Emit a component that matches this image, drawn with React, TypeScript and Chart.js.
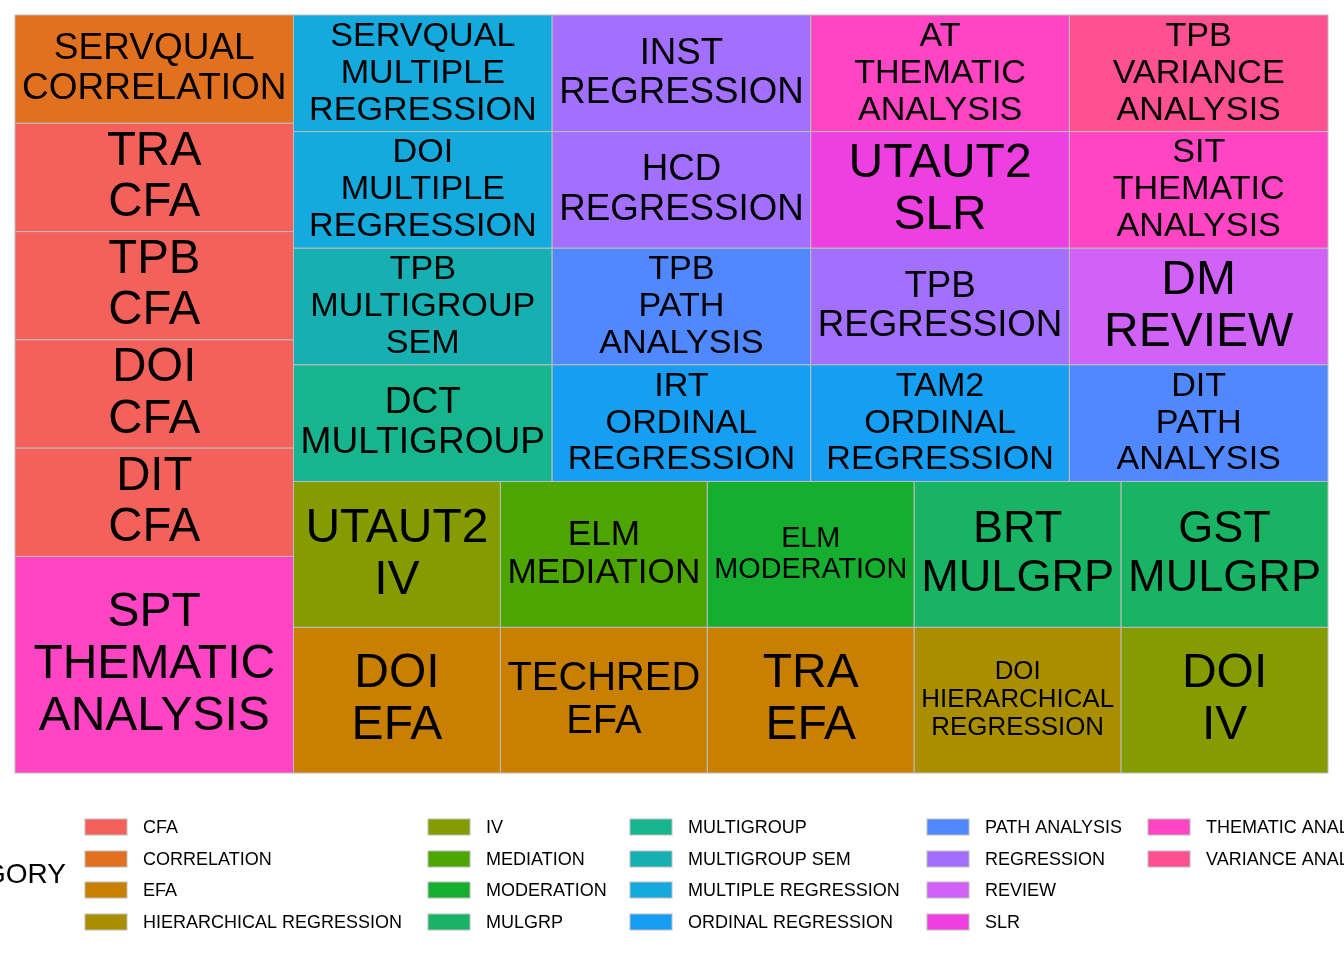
import { useRef, useEffect } from 'react';
import { Chart, registerables } from 'chart.js';

Chart.register(...registerables);

// category colours (legend order)
const categories = [
  'CFA', 'CORRELATION', 'EFA', 'HIERARCHICAL REGRESSION', 'IV', 'MEDIATION',
  'MODERATION', 'MULGRP', 'MULTIGROUP', 'MULTIGROUP SEM', 'MULTIPLE REGRESSION',
  'ORDINAL REGRESSION', 'PATH ANALYSIS', 'REGRESSION', 'REVIEW', 'SLR',
  'THEMATIC ANALYSIS', 'VARIANCE ANALYSIS',
];
const colors = [
  '#F3615A', '#E2711F', '#C98000', '#A98F00', '#859C00', '#4DA600',
  '#15AE2F', '#18B464', '#17B58E', '#16B0B2', '#14AADD', '#169FF2',
  '#5088FF', '#A26FFF', '#D062F8', '#EE40E0', '#FF44C4', '#FF5191',
];

// cells: [theory, category, count], grouped in the strips of the layout
const stripLeft: [string, string, number][] = [
  ['SERVQUAL', 'CORRELATION', 1], ['TRA', 'CFA', 1], ['TPB', 'CFA', 1],
  ['DOI', 'CFA', 1], ['DIT', 'CFA', 1], ['SPT', 'THEMATIC ANALYSIS', 2],
];
const stripBottom1: [string, string, number][] = [
  ['DOI', 'EFA', 1], ['TECHRED', 'EFA', 1], ['TRA', 'EFA', 1],
  ['DOI', 'HIERARCHICAL REGRESSION', 1], ['DOI', 'IV', 1],
];
const stripBottom2: [string, string, number][] = [
  ['UTAUT2', 'IV', 1], ['ELM', 'MEDIATION', 1], ['ELM', 'MODERATION', 1],
  ['BRT', 'MULGRP', 1], ['GST', 'MULGRP', 1],
];
const stripTop1: [string, string, number][] = [
  ['SERVQUAL', 'MULTIPLE REGRESSION', 1], ['INST', 'REGRESSION', 1],
  ['AT', 'THEMATIC ANALYSIS', 1], ['TPB', 'VARIANCE ANALYSIS', 1],
];
const stripTop2: [string, string, number][] = [
  ['DOI', 'MULTIPLE REGRESSION', 1], ['HCD', 'REGRESSION', 1],
  ['UTAUT2', 'SLR', 1], ['SIT', 'THEMATIC ANALYSIS', 1],
];
const stripTop3: [string, string, number][] = [
  ['TPB', 'MULTIGROUP SEM', 1], ['TPB', 'PATH ANALYSIS', 1],
  ['TPB', 'REGRESSION', 1], ['DM', 'REVIEW', 1],
];
const stripTop4: [string, string, number][] = [
  ['DCT', 'MULTIGROUP', 1], ['IRT', 'ORDINAL REGRESSION', 1],
  ['TAM2', 'ORDINAL REGRESSION', 1], ['DIT', 'PATH ANALYSIS', 1],
];

const strips: { side: 'left' | 'bottom' | 'top'; items: [string, string, number][] }[] = [
  { side: 'left', items: stripLeft },
  { side: 'bottom', items: stripBottom1 },
  { side: 'bottom', items: stripBottom2 },
  { side: 'top', items: stripTop1 },
  { side: 'top', items: stripTop2 },
  { side: 'top', items: stripTop3 },
  { side: 'top', items: stripTop4 },
];

interface Cell { x0: number; y0: number; x1: number; y1: number; theory: string; cat: string; }

function layout(): Cell[] {
  const sum = (a: [string, string, number][]) => a.reduce((s, d) => s + d[2], 0);
  let remaining = strips.reduce((s, st) => s + sum(st.items), 0);
  let r = { x0: 0, y0: 0, x1: 1, y1: 1 };
  const cells: Cell[] = [];
  strips.forEach((st) => {
    const t = sum(st.items);
    const frac = t / remaining;
    if (st.side === 'left') {
      const w = (r.x1 - r.x0) * frac;
      let y = r.y0;
      st.items.forEach(([th, c, v]) => {
        const h = (r.y1 - r.y0) * v / t;
        cells.push({ x0: r.x0, x1: r.x0 + w, y0: y, y1: y + h, theory: th, cat: c });
        y += h;
      });
      r = { ...r, x0: r.x0 + w };
    } else {
      const h = (r.y1 - r.y0) * frac;
      const ya = st.side === 'top' ? r.y0 : r.y1 - h;
      let x = r.x0;
      st.items.forEach(([th, c, v]) => {
        const w = (r.x1 - r.x0) * v / t;
        cells.push({ x0: x, x1: x + w, y0: ya, y1: ya + h, theory: th, cat: c });
        x += w;
      });
      r = st.side === 'top' ? { ...r, y0: r.y0 + h } : { ...r, y1: r.y1 - h };
    }
    remaining -= t;
  });
  return cells;
}

const FONT = '"Liberation Sans", Arial, sans-serif';

const treemapPlugin = {
  id: 'treemap',
  afterDatasetsDraw(chart: any) {
    const ctx: CanvasRenderingContext2D = chart.ctx;
    const xs = chart.scales.x;
    const ys = chart.scales.y;
    ctx.save();
    layout().forEach((c) => {
      const px0 = xs.getPixelForValue(c.x0);
      const px1 = xs.getPixelForValue(c.x1);
      const py0 = ys.getPixelForValue(c.y0);
      const py1 = ys.getPixelForValue(c.y1);
      ctx.fillStyle = colors[categories.indexOf(c.cat)];
      ctx.fillRect(px0, py0, px1 - px0, py1 - py0);
      ctx.strokeStyle = '#BDBDBD';
      ctx.lineWidth = 1;
      ctx.strokeRect(px0, py0, px1 - px0, py1 - py0);
      const lines = [c.theory, ...c.cat.split(' ')];
      const w = px1 - px0 - 14;
      const h = py1 - py0 - 6;
      ctx.font = `100px ${FONT}`;
      const tw = Math.max(...lines.map((l) => ctx.measureText(l).width));
      const size = Math.min(48, (w / tw) * 100, h / (lines.length * 1.08));
      ctx.font = `${size}px ${FONT}`;
      ctx.fillStyle = '#000';
      ctx.textAlign = 'center';
      ctx.textBaseline = 'middle';
      const lh = size * 1.08;
      const cx = (px0 + px1) / 2;
      const cy = (py0 + py1) / 2;
      lines.forEach((l, i) => {
        ctx.fillText(l, cx, cy + (i - (lines.length - 1) / 2) * lh);
      });
    });
    // legend
    ctx.font = `28px ${FONT}`;
    ctx.textAlign = 'right';
    ctx.textBaseline = 'middle';
    ctx.fillStyle = '#000';
    ctx.fillText('CATEGORY', 66, 875);
    const colX = [85, 428, 630, 927, 1148];
    const rowY = [827, 859, 890, 922];
    ctx.font = `18px ${FONT}`;
    ctx.textAlign = 'left';
    categories.forEach((cat, i) => {
      const col = Math.floor(i / 4);
      const row = i % 4;
      const x = colX[col];
      const y = rowY[row];
      ctx.fillStyle = colors[i];
      ctx.fillRect(x, y - 8, 42, 16);
      ctx.strokeStyle = '#BDBDBD';
      ctx.strokeRect(x, y - 8, 42, 16);
      ctx.fillStyle = '#000';
      ctx.fillText(cat, x + 58, y + 1);
    });
    ctx.restore();
  },
};

export default function App() {
  const canvasRef = useRef<HTMLCanvasElement | null>(null);
  const chartRef = useRef<Chart | null>(null);

  useEffect(() => {
    if (!canvasRef.current) return;
    if (chartRef.current) chartRef.current.destroy();
    chartRef.current = new Chart(canvasRef.current, {
      type: 'scatter',
      data: { datasets: [{ data: [], pointRadius: 0 }] },
      options: {
        animation: false,
        responsive: false,
        layout: { padding: { left: 15, top: 15, right: 16, bottom: 187 } },
        plugins: { legend: { display: false }, tooltip: { enabled: false } },
        scales: {
          x: { type: 'linear', min: 0, max: 1, display: false },
          y: { type: 'linear', min: 0, max: 1, reverse: true, display: false },
        },
      },
      plugins: [treemapPlugin],
    });
    return () => {
      if (chartRef.current) chartRef.current.destroy();
    };
  }, []);

  return (
    <div style={{ position: 'absolute', left: 0, top: 0, width: 1344, height: 960, background: '#fff' }}>
      <canvas ref={canvasRef} width={1344} height={960} style={{ width: 1344, height: 960 }} />
    </div>
  );
}
